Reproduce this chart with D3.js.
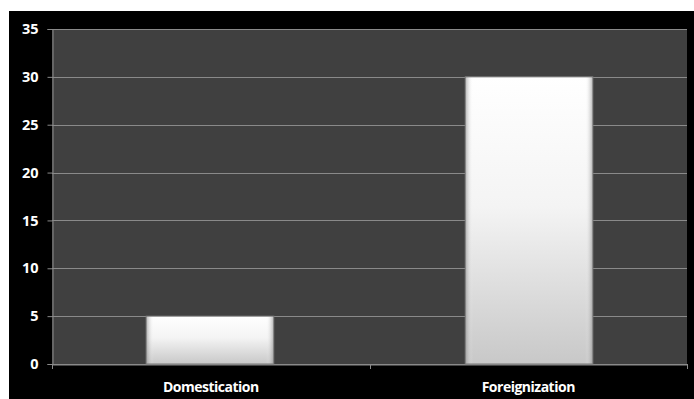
<!DOCTYPE html>
<html><head><meta charset="utf-8">
<script src="https://cdn.jsdelivr.net/npm/d3@7"></script>
<style>html,body{margin:0;padding:0;background:#fff;}svg{display:block;}</style>
</head><body>
<script>
const categories = ["Domestication", "Foreignization"];
const values = [5, 30];
const yTicks = [0, 5, 10, 15, 20, 25, 30, 35];

const W = 694, H = 399;
const svg = d3.select("body").append("svg").attr("width", W).attr("height", H);
const defs = svg.append("defs");

const vg = defs.append("linearGradient").attr("id", "vg").attr("x1", 0).attr("y1", 0).attr("x2", 0).attr("y2", 1);
vg.append("stop").attr("offset", "0%").attr("stop-color", "#ffffff");
vg.append("stop").attr("offset", "45%").attr("stop-color", "#f4f4f4");
vg.append("stop").attr("offset", "100%").attr("stop-color", "#c8c8c8");

const hg = defs.append("linearGradient").attr("id", "hg").attr("x1", 0).attr("y1", 0).attr("x2", 1).attr("y2", 0);
hg.append("stop").attr("offset", "0%").attr("stop-color", "#808080").attr("stop-opacity", 0.6);
hg.append("stop").attr("offset", "6%").attr("stop-color", "#ffffff").attr("stop-opacity", 0);
hg.append("stop").attr("offset", "94%").attr("stop-color", "#ffffff").attr("stop-opacity", 0);
hg.append("stop").attr("offset", "100%").attr("stop-color", "#808080").attr("stop-opacity", 0.6);

svg.append("rect").attr("x", 9).attr("y", 11).attr("width", W - 9).attr("height", H - 11).attr("fill", "#000");

const m = {left: 52, right: 687, top: 29, bottom: 364};
const x = d3.scaleBand().domain(categories).range([m.left, m.right]).paddingInner(0.6).paddingOuter(0.295);
const xb = d3.scaleBand().domain(categories).range([m.left, m.right]);
const y = d3.scaleLinear().domain([0, 35]).range([m.bottom, m.top]);

svg.append("rect").attr("x", m.left).attr("y", m.top).attr("width", m.right - m.left).attr("height", m.bottom - m.top).attr("fill", "#404040");

// gridlines
svg.append("g").selectAll("line").data(yTicks).join("line")
  .attr("x1", m.left).attr("x2", m.right)
  .attr("y1", d => Math.round(y(d)) + 0.5).attr("y2", d => Math.round(y(d)) + 0.5)
  .attr("stroke", "#8a8a8a").attr("stroke-width", 1);

// y axis
const yAxis = svg.append("g").attr("transform", `translate(${m.left + 0.5},0)`)
  .call(d3.axisLeft(y).tickValues(yTicks).tickSize(5).tickPadding(9));
yAxis.select(".domain").attr("stroke", "#8a8a8a");
yAxis.selectAll(".tick line").attr("stroke", "#8a8a8a");
yAxis.selectAll("text").attr("fill", "#fff").attr("font-family", "Open Sans, sans-serif")
  .attr("font-weight", "bold").attr("font-size", 14.5);

// bars
const bars = svg.append("g");
bars.selectAll("rect.b").data(values).join("rect").attr("class", "b")
  .attr("x", (d, i) => x(categories[i])).attr("width", x.bandwidth())
  .attr("y", d => y(d)).attr("height", d => y(0) - y(d))
  .attr("fill", "url(#vg)");
bars.selectAll("rect.e").data(values).join("rect").attr("class", "e")
  .attr("x", (d, i) => x(categories[i])).attr("width", x.bandwidth())
  .attr("y", d => y(d)).attr("height", d => y(0) - y(d))
  .attr("fill", "url(#hg)").attr("stroke", "#777").attr("stroke-width", 1);

// x axis
const xAxis = svg.append("g").attr("transform", `translate(0,${m.bottom + 0.5})`)
  .call(d3.axisBottom(xb).tickSize(0).tickPadding(18));
xAxis.select(".domain").attr("stroke", "#8a8a8a");
xAxis.selectAll("text").attr("fill", "#fff").attr("font-family", "Open Sans, sans-serif")
  .attr("font-weight", "bold").attr("font-size", 14).attr("letter-spacing", -0.5);
// category boundary ticks
svg.append("g").selectAll("line").data([m.left, xb(categories[1]), m.right]).join("line")
  .attr("x1", d => Math.round(d) + 0.5).attr("x2", d => Math.round(d) + 0.5)
  .attr("y1", m.bottom).attr("y2", m.bottom + 5).attr("stroke", "#8a8a8a");
</script>
</body></html>
